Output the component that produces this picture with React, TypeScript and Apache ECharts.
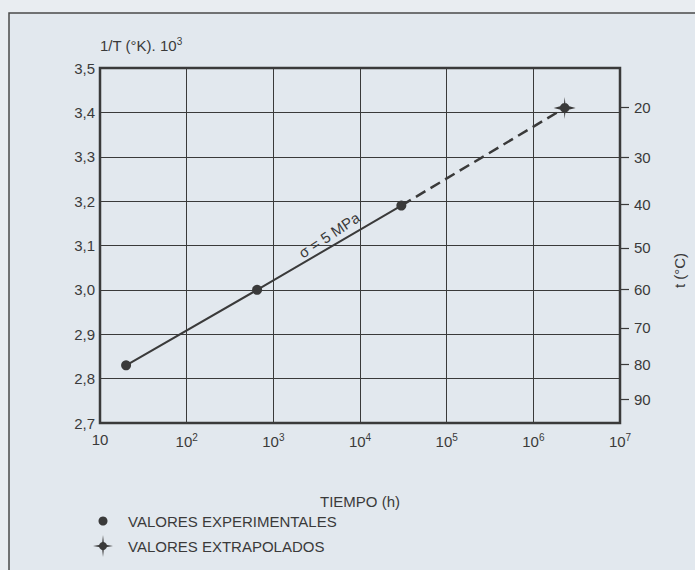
import React, { useEffect, useRef } from "react";
import * as echarts from "echarts";

const experimentalTimes = [20, 650, 30000];
const experimentalValues = [2.83, 3.0, 3.19];
const extrapolatedTimes = [30000, 2300000];
const extrapolatedValues = [3.19, 3.41];
const tempTicks = [20, 30, 40, 50, 60, 70, 80, 90];

const FONT = "'Liberation Sans', Arial, sans-serif";
const INK = "#3a3a3a";
const STAR =
  "path://M10 0 L10.8 7.6 L20 10 L10.8 12.4 L10 20 L9.2 12.4 L0 10 L9.2 7.6 Z M5.6 10 A4.4 4.4 0 1 1 14.4 10 A4.4 4.4 0 1 1 5.6 10 Z";

export default function App() {
  const ref = useRef<HTMLDivElement>(null);
  useEffect(() => {
    if (!ref.current) return;
    const chart = echarts.init(ref.current, null, { renderer: "svg" });
    const tempPos = tempTicks.map((t) => 1000 / (t + 273.15));
    const sup = { fontSize: 10, verticalAlign: "top", padding: [0, 0, 8, 0], fontFamily: FONT, color: INK };
    chart.setOption({
      animation: false,
      backgroundColor: "#e9edf1",
      textStyle: { fontFamily: FONT, color: INK },
      grid: {
        left: 100,
        right: 68,
        top: 68,
        bottom: 147,
        show: true,
        borderColor: INK,
        borderWidth: 2.5,
        backgroundColor: "transparent",
      },
      xAxis: {
        type: "log",
        logBase: 10,
        min: 10,
        max: 10000000,
        name: "TIEMPO (h)",
        nameLocation: "middle",
        nameGap: 71,
        nameTextStyle: { fontSize: 15, color: INK, fontFamily: FONT },
        axisLine: { show: false },
        axisTick: { show: false },
        splitLine: { show: true, lineStyle: { color: INK, width: 1 } },
        axisLabel: {
          margin: 9,
          fontSize: 15,
          color: INK,
          fontFamily: FONT,
          formatter: (v: number) => {
            const e = Math.round(Math.log10(v));
            return e === 1 ? "10" : "10{s|" + e + "}";
          },
          rich: { s: sup },
        },
      },
      yAxis: [
        {
          type: "value",
          min: 2.7,
          max: 3.5,
          interval: 0.1,
          name: "1/T (°K). 10{s|3}",
          nameLocation: "end",
          nameGap: 14,
          nameTextStyle: { fontSize: 15, color: INK, align: "left", fontFamily: FONT, rich: { s: sup } },
          axisLine: { show: false },
          axisTick: { show: false },
          splitLine: { show: true, lineStyle: { color: INK, width: 1 } },
          axisLabel: {
            margin: 5,
            fontSize: 15,
            color: INK,
            fontFamily: FONT,
            formatter: (v: number) => v.toFixed(1).replace(".", ","),
          },
        },
        {
          type: "value",
          position: "right",
          min: 2.7,
          max: 3.5,
          name: "t (°C)",
          nameLocation: "middle",
          nameRotate: 90,
          nameGap: 52,
          nameTextStyle: { fontSize: 15, color: INK, fontFamily: FONT, padding: [0, 50, 0, 0] },
          axisLine: { show: false },
          splitLine: { show: false },
          axisTick: {
            show: true,
            inside: false,
            length: 9,
            customValues: tempPos,
            lineStyle: { color: INK, width: 1.2 },
          },
          axisLabel: {
            margin: 14,
            fontSize: 15,
            color: INK,
            fontFamily: FONT,
            customValues: tempPos,
            formatter: (v: number) => String(Math.round(1000 / v - 273.15)),
          },
        },
      ],
      series: [
        {
          name: "VALORES EXPERIMENTALES",
          type: "line",
          data: experimentalTimes.map((t, i) => [t, experimentalValues[i]]),
          symbol: "circle",
          symbolSize: 10,
          itemStyle: { color: INK },
          lineStyle: { color: INK, width: 2 },
          z: 5,
        },
        {
          name: "VALORES EXTRAPOLADOS",
          type: "line",
          data: extrapolatedTimes.map((t, i) =>
            i === 0
              ? { value: [t, extrapolatedValues[i]], symbol: "none" }
              : { value: [t, extrapolatedValues[i]], symbol: STAR, symbolSize: 22 }
          ),
          itemStyle: { color: INK },
          lineStyle: { color: INK, width: 2.5, type: [11, 6] },
          z: 4,
        },
      ],
      graphic: [
        {
          type: "rect",
          shape: { x: 9, y: 13, width: 700, height: 570 },
          style: { fill: "#e2e8ee", stroke: "#4a4a4a", lineWidth: 1.5 },
          z: -10,
          silent: true,
        },
        {
          type: "text",
          x: 329,
          y: 235,
          rotation: 0.58,
          originX: 0,
          originY: 0,
          style: {
            text: "σ = 5 MPa",
            fontSize: 15,
            fontFamily: FONT,
            fill: INK,
            align: "center",
            verticalAlign: "middle",
          },
          z: 10,
        },
        {
          type: "circle",
          shape: { cx: 103, cy: 521, r: 4.5 },
          style: { fill: INK },
        },
        {
          type: "text",
          x: 128,
          y: 521,
          style: { text: "VALORES EXPERIMENTALES", fontSize: 15, fontFamily: FONT, fill: INK, verticalAlign: "middle" },
        },
        {
          type: "text",
          x: 128,
          y: 546,
          style: { text: "VALORES EXTRAPOLADOS", fontSize: 15, fontFamily: FONT, fill: INK, verticalAlign: "middle" },
        },
        {
          type: "polygon",
          shape: {
            points: [
              [103, 535], [104, 544.5], [113, 546], [104, 547.5], [103, 557], [102, 547.5], [93, 546], [102, 544.5],
            ],
          },
          style: { fill: INK },
        },
        {
          type: "circle",
          shape: { cx: 103, cy: 546, r: 4 },
          style: { fill: INK },
        },
      ],
    });
    return () => chart.dispose();
  }, []);
  return (
    <div
      ref={ref}
      style={{ position: "fixed", left: 0, top: 0, width: 695, height: 570 }}
    />
  );
}
